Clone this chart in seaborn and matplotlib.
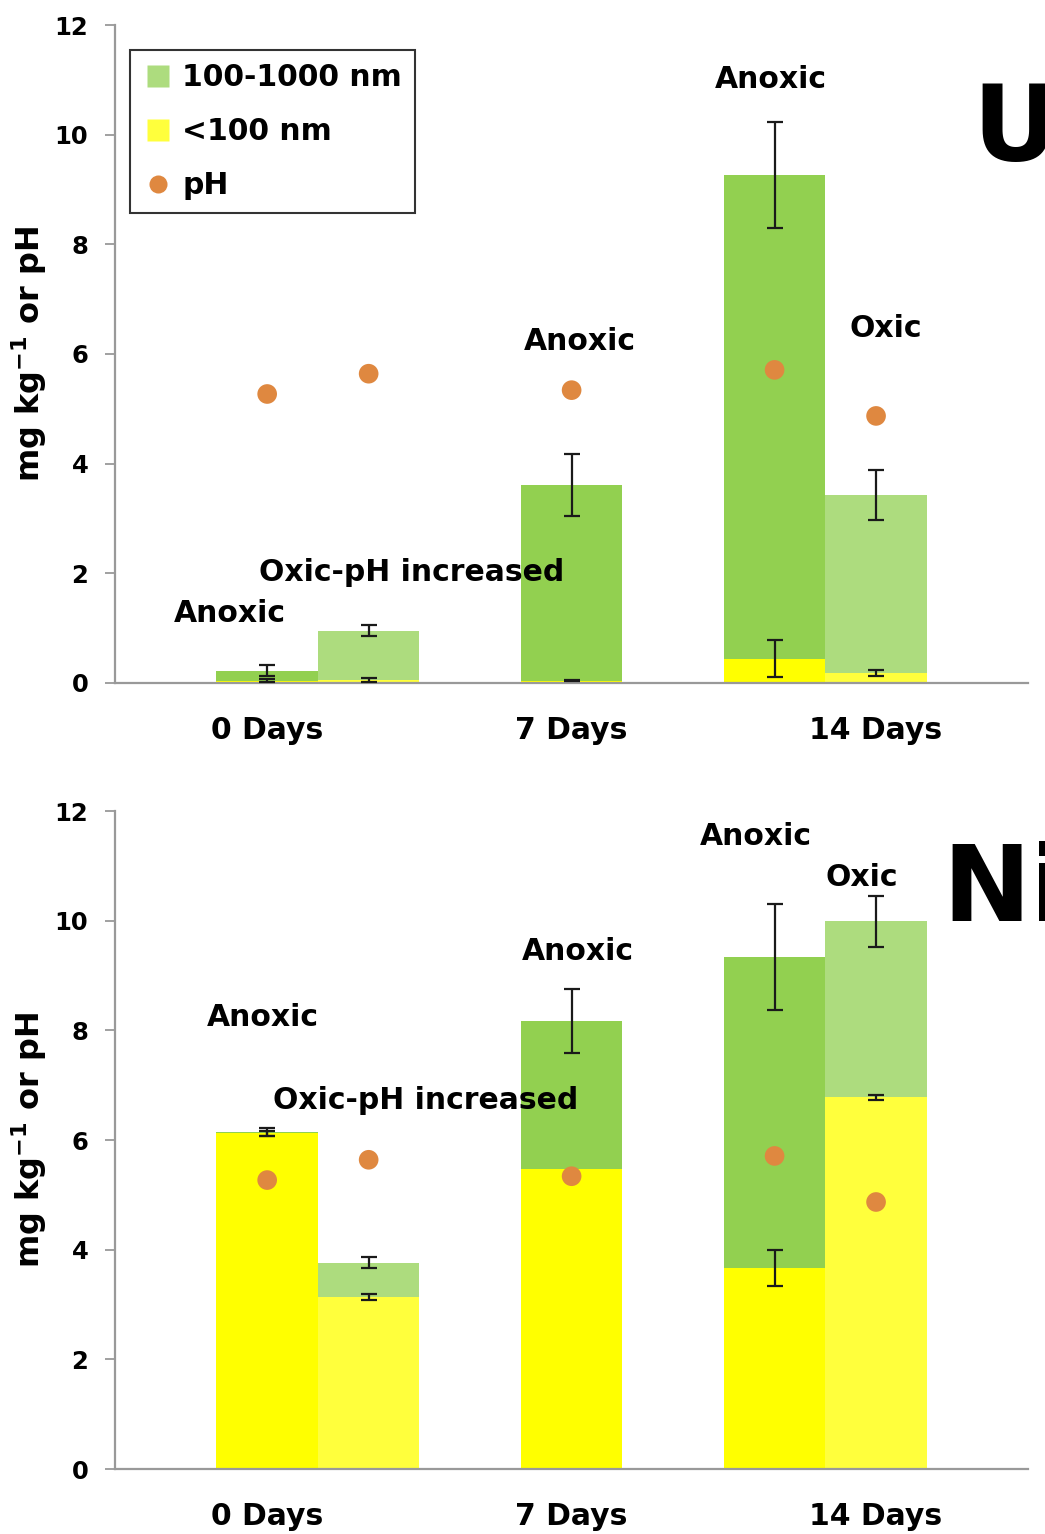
import matplotlib
matplotlib.use("Agg")
import matplotlib.pyplot as plt
import seaborn as sns
import pandas as pd
import numpy as np
from matplotlib.lines import Line2D

sns.set_theme(style="white")
plt.rcParams['font.family'] = ['DejaVu Sans']
plt.rcParams['font.weight'] = 'bold'
plt.rcParams['text.color'] = 'black'
plt.rcParams['axes.labelcolor'] = 'black'
plt.rcParams['xtick.color'] = 'black'
plt.rcParams['ytick.color'] = 'black'
plt.rcParams['mathtext.default'] = 'bf'

# ---- data ----
positions = [1, 2, 4, 6, 7]
conditions = ["Anoxic", "Oxic", "Anoxic", "Anoxic", "Oxic"]
tick_pos = [1, 4, 7]
tick_labels = ["0 Days", "7 Days", "14 Days"]

ph_values = [5.27, 5.64, 5.34, 5.71, 4.87]

# Uranium
U_small = [0.04, 0.05, 0.04, 0.44, 0.18]
U_large = [0.18, 0.90, 3.57, 8.82, 3.25]
U_small_err = [0.03, 0.04, 0.01, 0.34, 0.06]
U_total_err = [0.10, 0.10, 0.57, 0.97, 0.45]

# Nickel
Ni_small = [6.12, 3.14, 5.47, 3.66, 6.78]
Ni_large = [0.03, 0.62, 2.70, 5.68, 3.21]
Ni_small_err = [0.05, 0.05, 0.0, 0.33, 0.05]
Ni_total_err = [0.07, 0.10, 0.58, 0.97, 0.47]

panel_labels = ["U", "Ni"]

# annotations (text, x centre, y centre) per panel
U_notes = [("Anoxic", 0.63, 1.26), ("Oxic-pH increased", 2.42, 2.02),
           ("Anoxic", 4.08, 6.22), ("Anoxic", 5.96, 11.0), ("Oxic", 7.1, 6.47)]
Ni_notes = [("Anoxic", 0.96, 8.23), ("Oxic-pH increased", 2.56, 6.73),
            ("Anoxic", 4.06, 9.43), ("Anoxic", 5.82, 11.54), ("Oxic", 6.86, 10.78)]

# ---- colours ----
green_pal = {"Anoxic": "#92D050", "Oxic": "#ADDC7E"}
yellow_pal = {"Anoxic": "#FFFF00", "Oxic": "#FFFF3C"}
ph_color = "#DF8840"

fig = plt.figure(figsize=(10.45, 15.34), dpi=100)
ax_top = fig.add_axes([0.110, 0.5548, 0.874, 0.4289])
ax_bot = fig.add_axes([0.110, 0.04237, 0.874, 0.4289])


def draw(ax, small, large, small_err, total_err, notes, legend):
    total = [s + l for s, l in zip(small, large)]
    df = pd.DataFrame({"pos": positions, "cond": conditions, "small": small,
                       "total": total, "ph": ph_values})
    sns.barplot(data=df, x="pos", y="total", hue="cond", palette=green_pal,
                native_scale=True, width=1.0, dodge=False, legend=False,
                errorbar=None, ax=ax, linewidth=0, saturation=1)
    sns.barplot(data=df, x="pos", y="small", hue="cond", palette=yellow_pal,
                native_scale=True, width=1.0, dodge=False, legend=False,
                errorbar=None, ax=ax, linewidth=0, saturation=1)
    ax.errorbar(positions, total, yerr=total_err, fmt="none", ecolor="#1a1a1a",
                elinewidth=1.6, capsize=6, capthick=1.6, zorder=5)
    se = [e if e > 0 else np.nan for e in small_err]
    ax.errorbar(positions, small, yerr=se, fmt="none", ecolor="#1a1a1a",
                elinewidth=1.6, capsize=6, capthick=1.6, zorder=5)
    sns.scatterplot(data=df, x="pos", y="ph", color=ph_color, s=200,
                    edgecolor="none", ax=ax, zorder=6, legend=False)

    ax.set_xlim(-0.5, 8.5)
    ax.set_ylim(0, 12)
    ax.set_yticks(range(0, 13, 2))
    ax.set_yticklabels([str(v) for v in range(0, 13, 2)], fontsize=17.5,
                       fontweight="bold")
    ax.set_xticks(tick_pos)
    ax.set_xticklabels(tick_labels, fontsize=21.5, fontweight="bold")
    ax.tick_params(axis="x", length=0, pad=24)
    ax.tick_params(axis="y", length=7.2, width=1.3, color="#999999",
                   direction="out", pad=12, left=True)
    ax.set_xlabel("")
    ax.set_ylabel("mg kg$^{-1}$ or pH", fontsize=23,
                  fontweight="bold", labelpad=4)
    for s in ["top", "right"]:
        ax.spines[s].set_visible(False)
    for s in ["left", "bottom"]:
        ax.spines[s].set_color("#999999")
        ax.spines[s].set_linewidth(1.6)
    for txt, x, y in notes:
        ax.text(x, y, txt, fontsize=21.5, fontweight="bold", ha="center",
                va="center", zorder=7)
    if legend:
        handles = [
            Line2D([], [], marker="s", linestyle="none", markersize=16.5,
                   markerfacecolor=green_pal["Oxic"], markeredgecolor="none"),
            Line2D([], [], marker="s", linestyle="none", markersize=16.5,
                   markerfacecolor=yellow_pal["Oxic"], markeredgecolor="none"),
            Line2D([], [], marker="o", linestyle="none", markersize=13,
                   markerfacecolor=ph_color, markeredgecolor="none"),
        ]
        leg = ax.legend(handles, ["100-1000 nm", "<100 nm", "pH"],
                        loc="upper left", bbox_to_anchor=(0.0164, 0.962),
                        borderaxespad=0, fancybox=False, frameon=True,
                        edgecolor="black", handletextpad=0.3,
                        handlelength=1.0, labelspacing=0.83, borderpad=0.45,
                        prop={"weight": "bold", "size": 21.5})
        leg.get_frame().set_linewidth(1.5)


draw(ax_top, U_small, U_large, U_small_err, U_total_err, U_notes, True)
draw(ax_bot, Ni_small, Ni_large, Ni_small_err, Ni_total_err, Ni_notes, False)

fig.text(972 / 1045, 1 - 132 / 1534, panel_labels[0], fontsize=76,
         fontweight="bold", ha="left", va="center")
fig.text(942 / 1045, 1 - 892 / 1534, panel_labels[1], fontsize=76,
         fontweight="bold", ha="left", va="center")

fig.savefig("out.png", dpi=100)
